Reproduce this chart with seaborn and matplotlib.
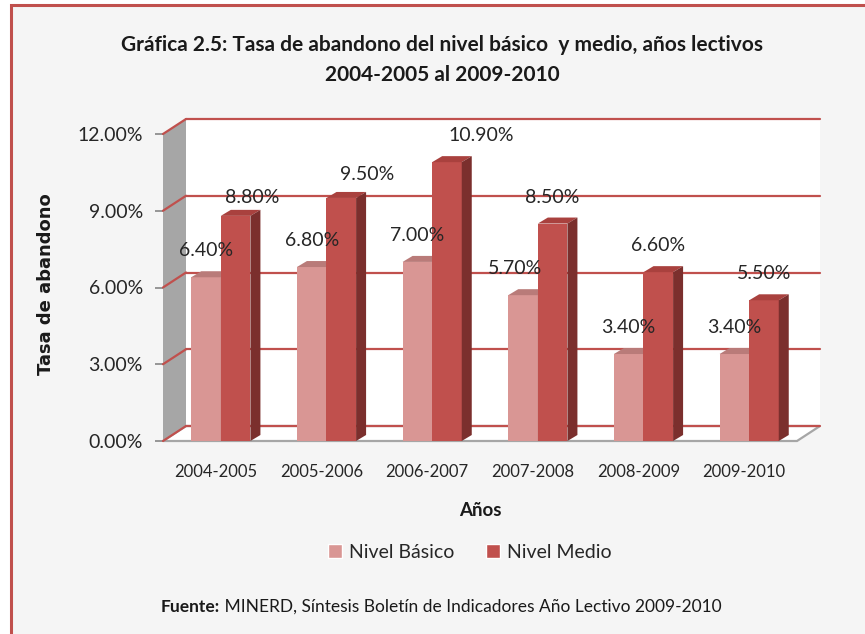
import matplotlib
matplotlib.use("Agg")
import matplotlib.pyplot as plt
from matplotlib.patches import Polygon, Rectangle
import seaborn as sns
import pandas as pd

# data (percent)
years = ["2004-2005", "2005-2006", "2006-2007", "2007-2008", "2008-2009", "2009-2010"]
series = ["Nivel Básico", "Nivel Medio"]
nivel_basico = [6.4, 6.8, 7.0, 5.7, 3.4, 3.4]
nivel_medio = [8.8, 9.5, 10.9, 8.5, 6.6, 5.5]
y_ticks = [0, 3, 6, 9, 12]

title = "Gráfica 2.5: Tasa de abandono del nivel básico  y medio, años lectivos\n2004-2005 al 2009-2010"
source_bold = "Fuente:"
source_text = " MINERD, Síntesis Boletín de Indicadores Año Lectivo 2009-2010"

# colours
light, light_top = "#d99694", "#b97b79"
dark, dark_top, dark_side = "#c0504d", "#a9413e", "#7b2f2d"
grid_red = "#c0504d"
wall_grey = "#a6a6a6"

df = pd.DataFrame({
    "Años": years * 2,
    "Nivel": [series[0]] * len(years) + [series[1]] * len(years),
    "Tasa": nivel_basico + nivel_medio,
})

sns.set_style("white")
plt.rcParams["font.family"] = ["Lato", "DejaVu Sans"]

W, H = 865, 634
fig = plt.figure(figsize=(W / 100, H / 100), dpi=100, facecolor="white")

# chart area frame (red border, light grey fill)
fig.patches.append(Rectangle((10.5 / W, -0.1), 1.2, 1.1 - 5.5 / H, transform=fig.transFigure,
                             facecolor="#f5f5f5", edgecolor=grid_red, linewidth=2.2, zorder=-5))

# axes = front plane of the pseudo 3d box
ax_l, ax_r, ax_b, ax_t = 163, 797, 441, 134
ax = fig.add_axes([ax_l / W, 1 - ax_b / H, (ax_r - ax_l) / W, (ax_b - ax_t) / H])
ax.patch.set_visible(False)

sns.barplot(data=df, x="Años", y="Tasa", hue="Nivel", hue_order=series,
            palette=[light, dark], width=0.56, gap=0, saturation=1,
            linewidth=0, legend=False, ax=ax)

xmin, xmax = -0.5, len(years) - 0.5
ymin, ymax = 0, 12
ax.set_xlim(xmin, xmax)
ax.set_ylim(ymin, ymax)

# pixel -> data unit helpers
px_x = (xmax - xmin) / (ax_r - ax_l)
px_y = (ymax - ymin) / (ax_b - ax_t)
ddx, ddy = 23 * px_x, 15 * px_y      # depth of the box
bdx, bdy = 10 * px_x, 6 * px_y       # depth of each bar
shift = 5 * px_x

tops = {0: light_top, 1: dark_top}
sides = {0: light_top, 1: dark_side}
for k, cont in enumerate(ax.containers):
    for bar in cont:
        bar.set_x(bar.get_x() + shift)
        bar.set_zorder(3 + k)
        x0 = bar.get_x()
        x1 = x0 + bar.get_width()
        h = bar.get_height()
        ax.add_patch(Polygon([(x0, h), (x1, h), (x1 + bdx, h + bdy), (x0 + bdx, h + bdy)],
                             closed=True, facecolor=tops[k], linewidth=0, zorder=3 + k))
        ax.add_patch(Polygon([(x1, 0), (x1 + bdx, bdy), (x1 + bdx, h + bdy), (x1, h)],
                             closed=True, facecolor=sides[k], linewidth=0, zorder=3 + k))

# back wall, side wall, floor
ax.add_patch(Rectangle((xmin + ddx, ymin + ddy), xmax - xmin, ymax - ymin,
                       facecolor="white", edgecolor="none", zorder=0, clip_on=False))
ax.add_patch(Polygon([(xmin, ymin), (xmin + ddx, ymin + ddy), (xmin + ddx, ymax + ddy), (xmin, ymax)],
                     closed=True, facecolor=wall_grey, edgecolor="none", zorder=0.5, clip_on=False))
ax.add_patch(Polygon([(xmin, ymin), (xmax, ymin), (xmax + ddx, ymin + ddy), (xmin + ddx, ymin + ddy)],
                     closed=True, facecolor="white", edgecolor="#a6a6a6", linewidth=1.6,
                     zorder=0.6, clip_on=False))
for t in y_ticks:
    ax.plot([xmin + ddx, xmax + ddx], [t + ddy, t + ddy], color=grid_red, lw=1.6,
            zorder=1, clip_on=False)
    ax.plot([xmin, xmin + ddx], [t, t + ddy], color=grid_red, lw=1.6, zorder=1, clip_on=False)

# value labels (small nudges in px where Excel placed them off-centre)
nudges = {(1, 0): (17, -8), (1, 1): (26, -3), (1, 2): (34, 0), (0, 3): (-8, 0)}
for k, (cont, vals) in enumerate(zip(ax.containers, [nivel_basico, nivel_medio])):
    for i, (bar, v) in enumerate(zip(cont, vals)):
        ndx, ndy = nudges.get((k, i), (0, 0))
        ax.annotate(f"{v:.2f}%", xy=(bar.get_x() + bar.get_width() / 2, v),
                    xytext=(ndx * 0.72, (21 + ndy) * 0.72), textcoords="offset points",
                    ha="center", va="baseline", fontsize=14, color="#262626", zorder=6)

for s in ax.spines.values():
    s.set_visible(False)
ax.set_yticks(y_ticks)
ax.set_yticklabels([f"{t:.2f}%" for t in y_ticks])
ax.tick_params(axis="y", left=True, length=6, width=1.2, color="#868686", pad=8.5,
               labelsize=14, labelcolor="#262626")
ax.tick_params(axis="x", bottom=False, pad=13, labelsize=12, labelcolor="#262626")
ax.set_xlabel("")
ax.set_ylabel("")

fig.text(442 / W, 1 - 60 / H, title, ha="center", va="center", fontsize=15,
         fontweight="bold", linespacing=1.6, color="#1a1a1a")
fig.text(46 / W, 1 - 284 / H, "Tasa de abandono", rotation=90, ha="center", va="center",
         fontsize=13, fontweight="bold", family="DejaVu Sans", color="#1a1a1a")
fig.text(480 / W, 1 - 510 / H, "Años", ha="center", va="center", fontsize=13.5,
         fontweight="bold", color="#1a1a1a")

handles = [Rectangle((0, 0), 1, 1, facecolor=c) for c in (light, dark)]
fig.legend(handles, series, loc="center", bbox_to_anchor=(470 / W, 1 - 552 / H), ncol=2,
           frameon=False, fontsize=14, handlelength=0.7, handleheight=0.7,
           handletextpad=0.4, columnspacing=1.6, labelcolor="#262626")

src = fig.text(161 / W, 1 - 607 / H, source_bold, ha="left", va="center", fontsize=12.5,
               fontweight="bold", color="#1a1a1a")
ax.annotate(source_text, xy=(1, 0.5), xycoords=src, ha="left", va="center",
            fontsize=12.5, color="#1a1a1a")

fig.savefig("out.png", dpi=100, facecolor=fig.get_facecolor())
